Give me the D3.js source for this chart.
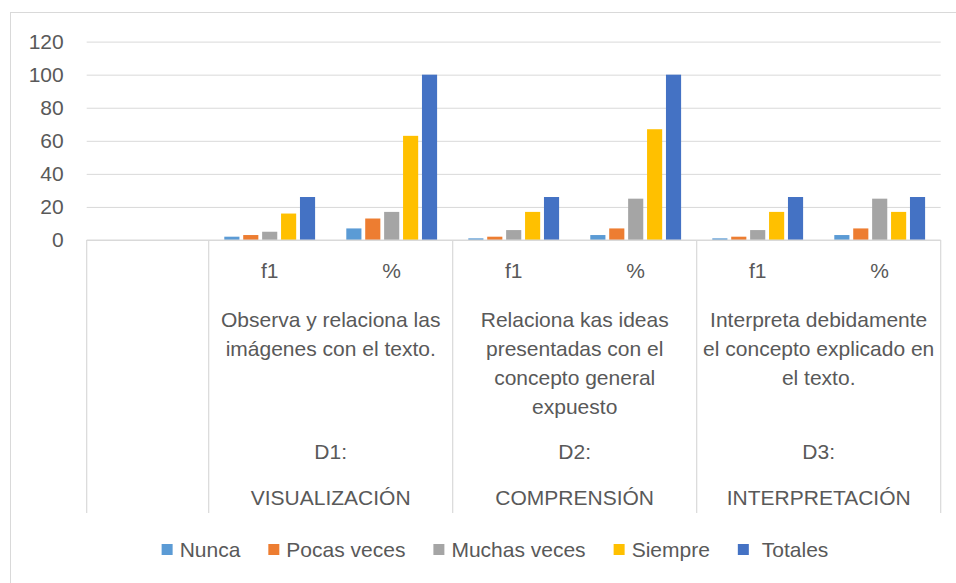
<!DOCTYPE html>
<html>
<head>
<meta charset="utf-8">
<script src="https://cdn.jsdelivr.net/npm/d3@7"></script>
<style>
  body { margin: 0; background: #fff; }
  text { font-family: "Liberation Sans", Arial, sans-serif; fill: #595959; }
</style>
</head>
<body>
<div id="graph"></div>
<script>
// series names and colours
const series = ["Nunca", "Pocas veces", "Muchas veces", "Siempre", "Totales"];
const colors = ["#5B9BD5", "#ED7D31", "#A5A5A5", "#FFC000", "#4472C4"];

// first category slot is empty in the original chart
const labels = ["", "f1", "%", "f1", "%", "f1", "%"];
const nunca   = [null, 2, 7, 1, 3, 1, 3];
const pocas   = [null, 3, 13, 2, 7, 2, 7];
const muchas  = [null, 5, 17, 6, 25, 6, 25];
const siempre = [null, 16, 63, 17, 67, 17, 17];
const totales = [null, 26, 100, 26, 100, 26, 26];

const questions = [
  ["Observa y relaciona las", "imágenes con el texto."],
  ["Relaciona kas ideas", "presentadas con el", "concepto general", "expuesto"],
  ["Interpreta debidamente", "el concepto explicado en", "el texto."]
];
const dims = ["D1:", "D2:", "D3:"];
const dimNames = ["VISUALIZACIÓN", "COMPRENSIÓN", "INTERPRETACIÓN"];
const yTicks = [0, 20, 40, 60, 80, 100, 120];

const width = 956;
const height = 583;
const plotL = 86.7, plotR = 940.7, plotT = 41.6, plotB = 240;
const grid = "#d9d9d9";
const fs = "21px";

const values = [nunca, pocas, muchas, siempre, totales];

const svg = d3.select("#graph")
  .append("svg")
  .attr("width", width)
  .attr("height", height);

// chart border (runs off the picture on the right and bottom)
svg.append("rect")
  .attr("x", 10.5).attr("y", 12.5)
  .attr("width", 980).attr("height", 600)
  .attr("fill", "none")
  .attr("stroke", grid);

const x0 = d3.scaleBand()
  .domain(d3.range(labels.length))
  .range([plotL, plotR]);

const x1 = d3.scaleBand()
  .domain(series)
  .range([15.6, 106.4])
  .paddingInner(0.2);

const y = d3.scaleLinear()
  .domain([0, 120])
  .range([plotB, plotT]);

// gridlines + y labels
const yAxis = d3.axisLeft(y)
  .tickValues(yTicks)
  .tickSize(-(plotR - plotL))
  .tickPadding(23);

svg.append("g")
  .attr("transform", "translate(" + plotL + ",0)")
  .call(yAxis)
  .call(g => g.select(".domain").remove())
  .call(g => g.selectAll("line").attr("stroke", grid))
  .call(g => g.selectAll("text")
    .style("font-size", fs)
    .attr("fill", "#595959")
    .style("font-family", "'Liberation Sans', Arial, sans-serif"));

// bars
series.forEach(function(s, si) {
  svg.append("g")
    .selectAll("rect")
    .data(values[si].map((v, i) => ({ i: i, v: v })).filter(d => d.v != null))
    .enter()
    .append("rect")
    .attr("x", d => x0(d.i) + x1(s))
    .attr("y", d => y(d.v))
    .attr("width", x1.bandwidth())
    .attr("height", d => y(0) - y(d.v))
    .attr("fill", colors[si]);
});

// category table lines
const axisG = svg.append("g").attr("stroke", grid).attr("stroke-width", 1.2);
axisG.append("line")
  .attr("x1", plotL).attr("x2", plotR)
  .attr("y1", plotB).attr("y2", plotB);

const lineBottom = 513;
[0, 1, 3, 5, 7].forEach(function(i) {
  const xx = i < labels.length ? x0(i) : plotR;
  axisG.append("line")
    .attr("x1", xx).attr("x2", xx)
    .attr("y1", plotB).attr("y2", lineBottom);
});

// level 1 labels
svg.append("g")
  .selectAll("text")
  .data(labels)
  .enter()
  .append("text")
  .attr("x", (d, i) => x0(i) + x0.bandwidth() / 2)
  .attr("y", 278)
  .attr("text-anchor", "middle")
  .style("font-size", fs)
  .text(d => d);

// group centres
const groupX = i => x0(1 + i * 2) + x0.bandwidth();

questions.forEach(function(lines, gi) {
  const t = svg.append("text")
    .attr("text-anchor", "middle")
    .style("font-size", fs);
  lines.forEach(function(line, li) {
    t.append("tspan")
      .attr("x", groupX(gi))
      .attr("y", 327 + li * 29)
      .text(line);
  });
});

svg.append("g")
  .selectAll("text")
  .data(dims)
  .enter()
  .append("text")
  .attr("x", (d, i) => groupX(i))
  .attr("y", 459)
  .attr("text-anchor", "middle")
  .style("font-size", fs)
  .text(d => d);

svg.append("g")
  .selectAll("text")
  .data(dimNames)
  .enter()
  .append("text")
  .attr("x", (d, i) => groupX(i))
  .attr("y", 505)
  .attr("text-anchor", "middle")
  .style("font-size", fs)
  .text(d => d);

// legend
const legend = svg.append("g");
let lx = 0;
series.forEach(function(s, si) {
  const item = legend.append("g").attr("transform", "translate(" + lx + ",0)");
  item.append("rect")
    .attr("x", 0).attr("y", 544)
    .attr("width", 11).attr("height", 11)
    .attr("fill", colors[si]);
  const tx = si == 4 ? 24 : 18;
  const txt = item.append("text")
    .attr("x", tx)
    .attr("y", 557)
    .style("font-size", fs)
    .text(s);
  lx += tx + txt.node().getComputedTextLength() + 28;
});
const legendW = lx - 28;
legend.attr("transform", "translate(" + (495 - legendW / 2) + ",0)");
</script>
</body>
</html>
